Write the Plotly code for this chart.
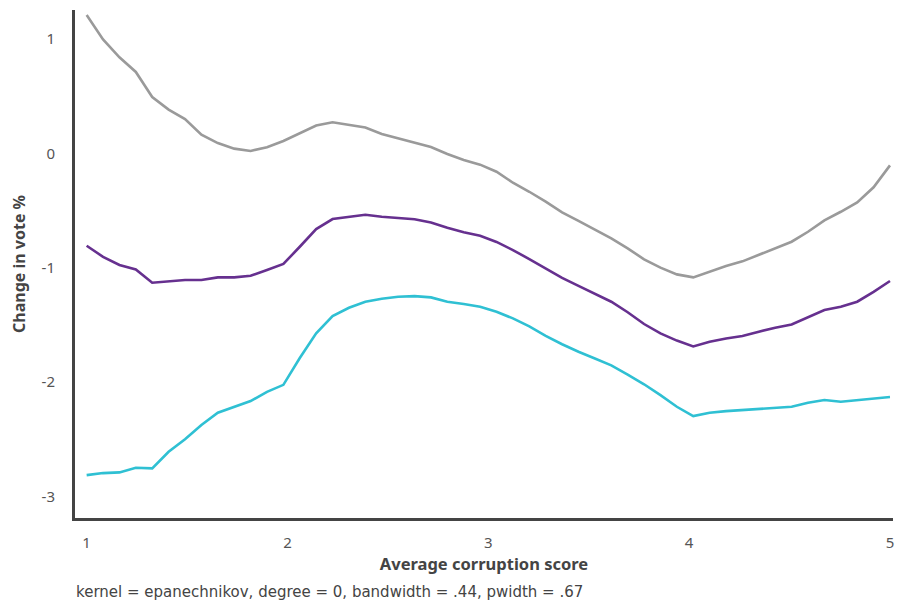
import numpy as np
import plotly.graph_objects as go

# 50 evaluation points of the local polynomial smooth (1 to 5)
corruption_score = list(np.linspace(1, 5, 50))

series_grey = [1.21, 0.997, 0.84, 0.712, 0.493, 0.383, 0.30, 0.163, 0.09, 0.041,
               0.021, 0.054, 0.108, 0.175, 0.243, 0.272, 0.25, 0.226, 0.169, 0.131,
               0.095, 0.055, -0.006, -0.059, -0.099, -0.161, -0.257, -0.336, -0.423, -0.516,
               -0.59, -0.665, -0.744, -0.831, -0.927, -1.0, -1.059, -1.085, -1.036, -0.985,
               -0.945, -0.887, -0.831, -0.773, -0.686, -0.587, -0.511, -0.43, -0.297, -0.105]

series_purple = [-0.808, -0.905, -0.977, -1.015, -1.132, -1.123, -1.108, -1.108, -1.085, -1.085,
                 -1.071, -1.021, -0.968, -0.817, -0.662, -0.575, -0.555, -0.537, -0.555, -0.569,
                 -0.577, -0.604, -0.651, -0.691, -0.721, -0.775, -0.846, -0.925, -1.01, -1.09,
                 -1.16, -1.23, -1.298, -1.39, -1.493, -1.575, -1.638, -1.689, -1.648, -1.619,
                 -1.598, -1.56, -1.525, -1.497, -1.435, -1.371, -1.342, -1.298, -1.211, -1.117]

series_cyan = [-2.815, -2.797, -2.791, -2.751, -2.756, -2.611, -2.502, -2.377, -2.269, -2.217,
               -2.167, -2.086, -2.025, -1.79, -1.575, -1.423, -1.351, -1.298, -1.272, -1.254,
               -1.249, -1.26, -1.298, -1.318, -1.342, -1.386, -1.444, -1.513, -1.596, -1.67,
               -1.736, -1.794, -1.855, -1.935, -2.02, -2.115, -2.217, -2.298, -2.269, -2.255,
               -2.246, -2.237, -2.231, -2.217, -2.182, -2.158, -2.173, -2.158, -2.143, -2.132]

x_ticks = [1, 2, 3, 4, 5]
y_ticks = [1, 0, -1, -2, -3]

FONT = "Noto Sans"
fig = go.Figure()
for ys, col in [(series_grey, "#9a9a9a"), (series_purple, "#66308f"), (series_cyan, "#2fc0d3")]:
    fig.add_trace(go.Scatter(x=corruption_score, y=ys, mode="lines",
                             line=dict(color=col, width=2.6), showlegend=False,
                             hoverinfo="skip"))

fig.update_layout(
    width=899, height=606,
    margin=dict(l=75, r=6, t=10, b=88),
    paper_bgcolor="white", plot_bgcolor="white",
    font=dict(family=FONT, color="#555555", size=15),
)
fig.update_xaxes(range=[0.942, 5.015], tickvals=x_ticks, ticktext=[str(t) for t in x_ticks],
                 automargin=False,
                 showgrid=False, zeroline=False, showline=True, linecolor="#444444", linewidth=3,
                 ticks="", ticklabelstandoff=9, tickfont=dict(size=15, color="#555555"),
                 title=dict(text="<b>Average corruption score</b>", standoff=7,
                            font=dict(size=16.5, color="#444444")))
fig.update_yaxes(range=[-3.19, 1.254], tickvals=y_ticks, ticktext=[str(t) for t in y_ticks],
                 automargin=False,
                 showgrid=False, zeroline=False, showline=True, linecolor="#444444", linewidth=3,
                 ticks="", ticklabelstandoff=14, tickfont=dict(size=15, color="#555555"),
                 title=dict(text="<b>Change in vote %</b>", standoff=12,
                            font=dict(size=16, color="#444444")))
fig.add_annotation(text="kernel = epanechnikov, degree = 0, bandwidth = .44, pwidth = .67",
                   xref="paper", yref="paper", x=0, xshift=-1, y=0, yshift=-74,
                   xanchor="left", yanchor="middle", showarrow=False,
                   font=dict(size=15, color="#444444", family="DejaVu Sans"))
fig.write_html("out.html", config={"displayModeBar": False},
               post_script="document.body.style.margin='0';document.body.style.overflow='hidden';")
